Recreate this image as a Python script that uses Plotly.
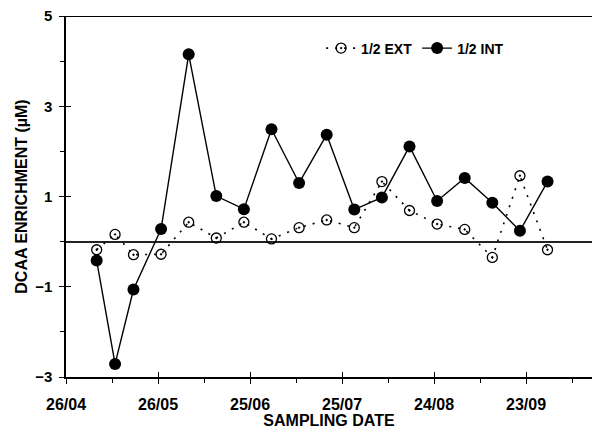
import plotly.graph_objects as go

# Sampling dates (day/month), year arbitrary
dates = ["1990-05-06", "1990-05-12", "1990-05-18", "1990-05-27", "1990-06-05",
         "1990-06-14", "1990-06-23", "1990-07-02", "1990-07-11", "1990-07-20",
         "1990-07-29", "1990-08-07", "1990-08-16", "1990-08-25", "1990-09-03",
         "1990-09-12", "1990-09-21", "1990-09-30"]
ext_half = [-0.18, 0.16, -0.29, -0.28, 0.43, 0.08, 0.43, 0.06, 0.31, 0.48,
            0.31, 1.33, 0.69, 0.39, 0.27, -0.35, 1.46, -0.18]
int_half = [-0.42, -2.71, -1.06, 0.28, 4.15, 1.01, 0.72, 2.49, 1.30, 2.37,
            0.71, 0.98, 2.11, 0.90, 1.41, 0.86, 0.24, 1.33]

x_tick_dates = ["1990-04-26", "1990-05-26", "1990-06-25", "1990-07-25",
                "1990-08-24", "1990-09-23"]
x_tick_labels = ["26/04", "26/05", "25/06", "25/07", "24/08", "23/09"]
y_ticks = [-3, -1, 1, 3, 5]
x_range = ["1990-04-26", "1990-10-14 12:00"]
y_range = [-3, 5]

FONT = "Liberation Sans, Arial, sans-serif"
DAY = 86400000

fig = go.Figure()

fig.add_trace(go.Scatter(
    x=dates, y=ext_half, name="1/2 EXT", mode="lines+markers",
    line=dict(color="black", width=1.6, dash="2px,7px"),
    marker=dict(symbol="circle-open-dot", size=10, color="black",
                line=dict(color="black", width=1.3)),
))
fig.add_trace(go.Scatter(
    x=dates, y=int_half, name="1/2 INT", mode="lines+markers",
    line=dict(color="black", width=1.4),
    marker=dict(symbol="circle", size=12, color="black"),
))
# helper trace so the overlay axes (inward ticks) are drawn
fig.add_trace(go.Scatter(
    x=dates, y=int_half, xaxis="x2", yaxis="y2", mode="markers",
    marker=dict(opacity=0), showlegend=False, hoverinfo="skip",
))

common_x = dict(type="date", range=x_range, tickmode="array",
                tickvals=x_tick_dates, ticklen=5, tickwidth=1.3,
                tickcolor="black", showgrid=False, zeroline=False,
                automargin=False,
                minor=dict(tick0="1990-04-26", dtick=15 * DAY, ticklen=4,
                           tickwidth=1.2, tickcolor="black", showgrid=False))
common_y = dict(range=y_range, tickmode="array", tickvals=y_ticks, ticklen=5,
                tickwidth=1.3, tickcolor="black", showgrid=False,
                automargin=False,
                minor=dict(tick0=-3, dtick=1, ticklen=4, tickwidth=1.2,
                           tickcolor="black", showgrid=False))

fig.update_layout(
    width=593, height=429,
    margin=dict(l=66, r=1, t=16, b=52),
    paper_bgcolor="white", plot_bgcolor="white",
    font=dict(family=FONT, color="black", weight="bold"),
    showlegend=True,
    legend=dict(orientation="h", x=0.485, xanchor="left", y=0.91,
                yanchor="middle", bgcolor="rgba(0,0,0,0)",
                font=dict(size=14, family=FONT, weight="bold"),
                itemwidth=30, tracegroupgap=0),
    xaxis=dict(**common_x, ticks="outside", ticktext=x_tick_labels,
               showline=True, linecolor="black", linewidth=1.5,
               tickfont=dict(size=16, family=FONT, weight="bold"),
               ticklabelstandoff=7,
               title=dict(text="SAMPLING DATE", standoff=4,
                          font=dict(size=16, family=FONT, weight="bold"))),
    xaxis2=dict(**common_x, overlaying="x", anchor="y2", ticks="inside",
                showticklabels=False, showline=False),
    yaxis=dict(**common_y, ticks="outside", showline=True, linecolor="black",
               linewidth=1.5, zeroline=True, zerolinecolor="#222",
               zerolinewidth=1.5,
               tickfont=dict(size=15, family=FONT, weight="bold"),
               ticklabelstandoff=4,
               title=dict(text="DCAA ENRICHMENT (µM)", standoff=4,
                          font=dict(size=16, family=FONT, weight="bold"))),
    yaxis2=dict(**common_y, overlaying="y", anchor="x2", side="left",
                ticks="inside", showticklabels=False, showline=False,
                zeroline=False),
    shapes=[dict(type="line", xref="paper", x0=0, x1=1, yref="y", y0=5, y1=5,
                 line=dict(color="black", width=2))],
)

fig.write_html(
    "out.html",
    config={"displayModeBar": False},
    post_script="document.body.style.margin='0';"
                "document.body.style.overflow='hidden';",
)
